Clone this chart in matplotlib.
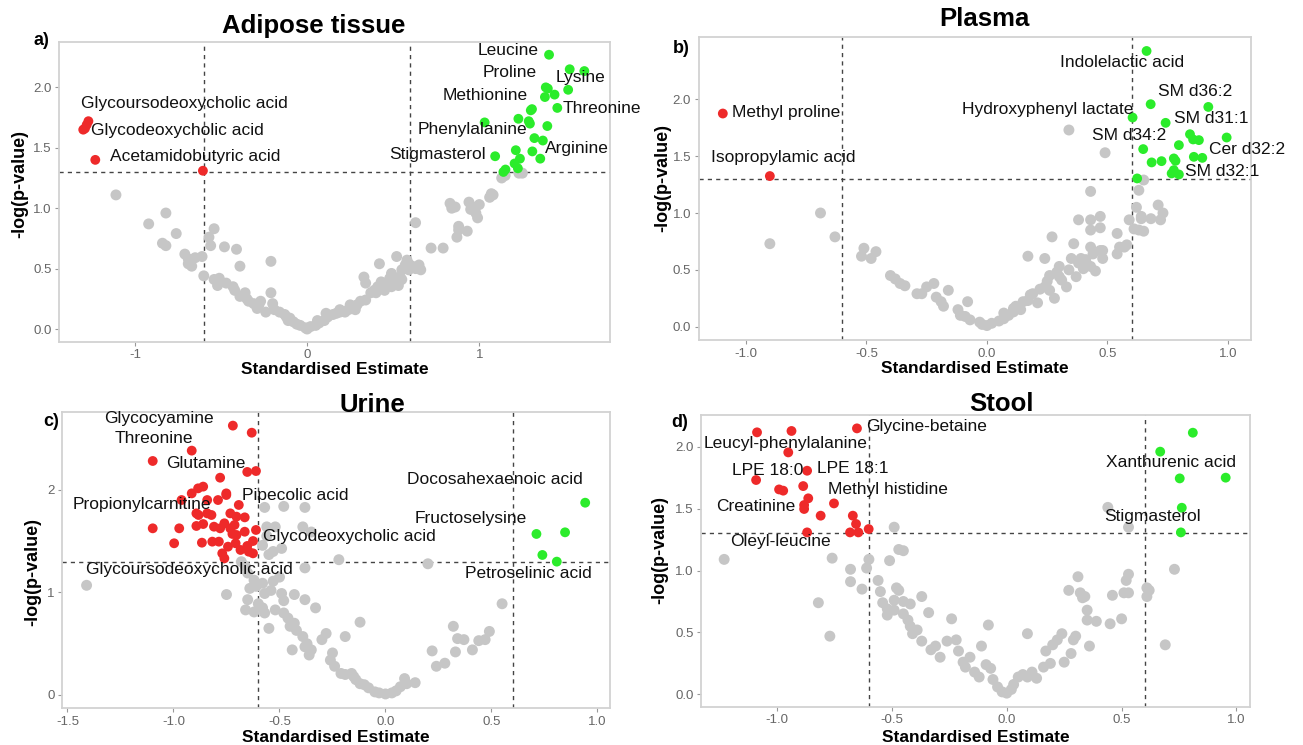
import matplotlib
matplotlib.use("Agg")
import matplotlib.pyplot as plt
import numpy as np

plt.rcParams['font.family'] = ['Liberation Sans', 'DejaVu Sans']

GREY = '#c6c6c6'
RED = '#ee2a2a'
GREEN = '#2bec2b'

# ---------------- a) Adipose tissue ----------------
adipose_grey = [
    (-1.11, 1.11), (-0.92, 0.87), (-0.82, 0.96), (-0.76, 0.79), (-0.84, 0.71), (-0.82, 0.69),
    (-0.71, 0.62), (-0.69, 0.58), (-0.67, 0.52), (-0.65, 0.59), (-0.61, 0.60), (-0.60, 0.44),
    (-0.57, 0.76), (-0.54, 0.83), (-0.56, 0.69), (-0.54, 0.41), (-0.52, 0.36), (-0.48, 0.68),
    (-0.41, 0.66), (-0.39, 0.52), (-0.43, 0.35), (-0.42, 0.32), (-0.39, 0.27), (-0.35, 0.25),
    (-0.34, 0.23), (-0.31, 0.21), (-0.28, 0.20), (-0.27, 0.23), (-0.21, 0.56), (-0.21, 0.30),
    (-0.20, 0.21), (-0.19, 0.16), (-0.16, 0.14), (-0.13, 0.12), (-0.11, 0.07), (-0.08, 0.06),
    (-0.06, 0.04), (-0.04, 0.03), (-0.01, 0.01), (0.00, 0.00), (0.02, 0.02), (0.05, 0.03),
    (0.07, 0.05), (0.10, 0.07), (0.12, 0.10), (0.15, 0.12), (0.17, 0.13), (0.19, 0.14),
    (0.22, 0.14), (0.24, 0.16), (0.28, 0.16), (0.29, 0.20), (0.31, 0.23), (0.33, 0.43),
    (0.34, 0.38), (0.37, 0.30), (0.39, 0.32), (0.41, 0.35), (0.42, 0.54), (0.43, 0.39),
    (0.46, 0.38), (0.48, 0.42), (0.49, 0.46), (0.51, 0.41), (0.52, 0.60), (0.53, 0.39),
    (0.54, 0.43), (0.55, 0.49), (0.57, 0.53), (0.58, 0.57), (0.59, 0.54), (0.61, 0.52),
    (0.63, 0.88), (0.65, 0.53), (0.66, 0.49), (0.72, 0.67), (0.79, 0.67), (0.83, 1.04),
    (0.84, 1.00), (0.86, 1.01), (0.87, 0.76), (0.88, 0.85), (0.88, 0.82), (0.93, 0.81),
    (0.94, 1.05), (0.95, 0.99), (0.96, 1.01), (0.98, 0.96), (0.99, 0.92), (1.00, 1.03),
    (1.06, 1.09), (1.07, 1.12), (1.08, 1.11), (1.13, 1.25), (1.15, 1.27), (1.23, 1.29),
    (1.25, 1.29), (-0.12, 0.10), (-0.10, 0.09), (0.06, 0.07), (0.11, 0.13), (0.19, 0.16),
    (0.25, 0.20), (0.34, 0.24), (0.40, 0.30), (0.45, 0.32), (0.49, 0.35), (0.53, 0.36),
    (0.55, 0.41), (0.59, 0.49), (0.63, 0.50), (-0.29, 0.17), (-0.24, 0.14), (-0.36, 0.30),
    (-0.47, 0.38), (-0.69, 0.54), (-0.51, 0.42),
]
adipose_red = [(-1.27, 1.72), (-1.28, 1.69), (-1.29, 1.66), (-1.30, 1.65), (-1.23, 1.40), (-0.605, 1.31)]
adipose_green = [
    (1.405, 2.27), (1.525, 2.15), (1.61, 2.135), (1.386, 2.00), (1.398, 1.99), (1.516, 1.98),
    (1.381, 1.92), (1.437, 1.94), (1.453, 1.83), (1.306, 1.82), (1.299, 1.81), (1.031, 1.71),
    (1.227, 1.74), (1.287, 1.72), (1.294, 1.70), (1.395, 1.68), (1.320, 1.58), (1.369, 1.56),
    (1.308, 1.47), (1.212, 1.48), (1.092, 1.43), (1.236, 1.41), (1.354, 1.41), (1.205, 1.37),
    (1.152, 1.32), (1.140, 1.30), (1.224, 1.33),
]
adipose_labels = ["Glycoursodeoxycholic acid", "Glycodeoxycholic acid", "Acetamidobutyric acid",
                  "Leucine", "Proline", "Lysine", "Methionine", "Threonine", "Phenylalanine",
                  "Arginine", "Stigmasterol"]
adipose_label_pos = [(-0.711, 1.868, 'center'), (-1.253, 1.647, 'left'), (-1.145, 1.426, 'left'),
                     (1.342, 2.309, 'right'), (1.333, 2.121, 'right'), (1.443, 2.083, 'left'),
                     (1.282, 1.931, 'right'), (1.484, 1.826, 'left'), (1.277, 1.655, 'right'),
                     (1.381, 1.495, 'left'), (1.036, 1.448, 'right')]

# ---------------- b) Plasma ----------------
plasma_grey = [
    (0.34, 1.73), (0.49, 1.53), (-0.69, 1.00), (-0.63, 0.79), (-0.90, 0.73), (-0.51, 0.69),
    (-0.52, 0.62), (-0.48, 0.60), (-0.46, 0.66), (-0.40, 0.45), (-0.38, 0.42), (-0.34, 0.36),
    (-0.29, 0.29), (-0.27, 0.29), (-0.25, 0.35), (-0.22, 0.38), (-0.21, 0.26), (-0.19, 0.22),
    (-0.16, 0.32), (-0.18, 0.18), (-0.12, 0.15), (-0.11, 0.10), (-0.08, 0.22), (-0.07, 0.06),
    (-0.03, 0.04), (-0.02, 0.02), (0.00, 0.01), (0.02, 0.03), (0.05, 0.05), (0.07, 0.07),
    (0.09, 0.10), (0.11, 0.13), (0.12, 0.18), (0.14, 0.15), (0.15, 0.22), (0.17, 0.62),
    (0.18, 0.28), (0.21, 0.21), (0.22, 0.33), (0.24, 0.60), (0.25, 0.40), (0.26, 0.32),
    (0.27, 0.79), (0.26, 0.45), (0.28, 0.25), (0.29, 0.48), (0.30, 0.53), (0.31, 0.41),
    (0.33, 0.35), (0.35, 0.60), (0.36, 0.73), (0.37, 0.44), (0.38, 0.56), (0.39, 0.60),
    (0.40, 0.51), (0.41, 0.59), (0.43, 0.53), (0.43, 1.19), (0.38, 0.94), (0.43, 0.94),
    (0.43, 0.85), (0.43, 0.70), (0.44, 0.64), (0.45, 0.49), (0.47, 0.87), (0.47, 0.97),
    (0.47, 0.67), (0.48, 0.60), (0.48, 0.67), (0.54, 0.82), (0.54, 0.64), (0.55, 0.70),
    (0.57, 0.70), (0.58, 0.72), (0.59, 0.94), (0.61, 0.86), (0.63, 0.85), (0.65, 0.84),
    (0.63, 1.20), (0.62, 1.05), (0.65, 1.29), (0.64, 0.97), (0.64, 0.95), (0.68, 0.95),
    (0.71, 1.07), (0.73, 1.00), (0.72, 0.94), (-0.36, 0.38), (-0.09, 0.09), (0.07, 0.12),
    (0.11, 0.16), (0.17, 0.23), (0.19, 0.29), (0.24, 0.35), (0.30, 0.44), (0.34, 0.50),
]
plasma_red = [(-1.095, 1.875), (-0.90, 1.325)]
plasma_green = [
    (0.662, 2.425), (0.679, 1.957), (0.604, 1.840), (0.741, 1.793), (0.918, 1.933), (0.842, 1.693),
    (0.855, 1.647), (0.879, 1.641), (0.994, 1.664), (0.796, 1.597), (0.648, 1.562), (0.683, 1.445),
    (0.724, 1.456), (0.775, 1.480), (0.782, 1.459), (0.858, 1.494), (0.893, 1.485), (0.775, 1.377),
    (0.766, 1.348), (0.796, 1.339), (0.623, 1.304),
]
plasma_labels = ["Methyl proline", "Isopropylamic acid", "Indolelactic acid", "SM d36:2",
                 "Hydroxyphenyl lactate", "SM d31:1", "SM d34:2", "Cer d32:2", "SM d32:1"]
plasma_label_pos = [(-1.055, 1.880, 'left'), (-0.845, 1.485, 'center'), (0.562, 2.320, 'center'),
                    (0.708, 2.065, 'left'), (0.607, 1.913, 'right'), (0.775, 1.831, 'left'),
                    (0.745, 1.685, 'right'), (0.920, 1.559, 'left'), (0.821, 1.362, 'left')]

# ---------------- c) Urine ----------------
urine_grey = [
    (-1.41, 1.07), (-0.75, 0.98), (-0.57, 1.83), (-0.48, 1.84), (-0.38, 1.83), (-0.56, 1.64),
    (-0.52, 1.64), (-0.39, 1.64), (-0.35, 1.59), (-0.56, 1.55), (-0.58, 1.46), (-0.53, 1.40),
    (-0.49, 1.43), (-0.55, 1.37), (-0.22, 1.32), (0.20, 1.28), (-0.38, 1.24), (-0.68, 1.30),
    (-0.66, 1.25), (-0.65, 1.19), (-0.62, 1.12), (-0.58, 1.09), (-0.61, 1.06), (-0.64, 1.04),
    (-0.57, 0.99), (-0.53, 1.11), (-0.50, 1.15), (-0.54, 1.02), (-0.49, 0.99), (-0.43, 0.98),
    (-0.65, 0.93), (-0.60, 0.89), (-0.58, 0.85), (-0.48, 0.92), (-0.38, 0.93), (-0.33, 0.85),
    (-0.66, 0.83), (-0.62, 0.81), (-0.57, 0.80), (-0.55, 0.65), (-0.52, 0.83), (-0.48, 0.80),
    (-0.46, 0.75), (-0.45, 0.67), (-0.43, 0.70), (-0.42, 0.63), (-0.39, 0.57), (-0.37, 0.50),
    (-0.35, 0.44), (-0.38, 0.47), (-0.44, 0.44), (-0.36, 0.39), (-0.30, 0.54), (-0.28, 0.60),
    (-0.19, 0.57), (-0.12, 0.71), (-0.25, 0.41), (-0.26, 0.34), (-0.24, 0.28), (-0.21, 0.21),
    (-0.19, 0.20), (-0.16, 0.21), (-0.15, 0.18), (-0.14, 0.15), (-0.12, 0.11), (-0.10, 0.10),
    (-0.08, 0.07), (-0.05, 0.03), (-0.03, 0.02), (0.00, 0.01), (0.03, 0.02), (0.05, 0.04),
    (0.07, 0.08), (0.09, 0.16), (0.10, 0.11), (0.14, 0.12), (0.22, 0.43), (0.24, 0.28),
    (0.28, 0.31), (0.32, 0.67), (0.33, 0.42), (0.34, 0.55), (0.37, 0.54), (0.41, 0.44),
    (0.44, 0.53), (0.47, 0.54), (0.49, 0.62), (0.55, 0.89),
]
urine_red = [
    (-0.720, 2.628), (-0.631, 2.559), (-0.914, 2.384), (-1.098, 2.283), (-0.652, 2.176), (-0.611, 2.185),
    (-0.780, 2.120), (-0.860, 2.033), (-0.884, 2.016), (-0.914, 1.967), (-0.751, 1.967), (-0.751, 1.951),
    (-0.962, 1.902), (-0.841, 1.902), (-0.790, 1.902), (-0.692, 1.854), (-0.892, 1.772), (-0.882, 1.756),
    (-0.841, 1.772), (-0.821, 1.756), (-0.732, 1.772), (-0.703, 1.740), (-0.664, 1.733), (-1.098, 1.626),
    (-0.973, 1.626), (-0.892, 1.649), (-0.860, 1.668), (-0.809, 1.642), (-0.760, 1.675), (-0.780, 1.626),
    (-0.732, 1.626), (-0.712, 1.659), (-0.722, 1.571), (-0.664, 1.593), (-0.611, 1.610), (-0.625, 1.502),
    (-0.997, 1.480), (-0.866, 1.486), (-0.817, 1.496), (-0.786, 1.496), (-0.743, 1.447), (-0.707, 1.480),
    (-0.684, 1.415), (-0.652, 1.454), (-0.645, 1.398), (-0.625, 1.382), (-0.770, 1.382), (-0.760, 1.333),
    (-0.703, 1.561),
]
urine_green = [(0.942, 1.876), (0.712, 1.571), (0.847, 1.587), (0.740, 1.366), (0.808, 1.301)]
urine_labels = ["Glycocyamine", "Threonine", "Glutamine", "Pipecolic acid", "Propionylcarnitine",
                "Glycodeoxycholic acid", "Glycoursodeoxycholic acid", "Docosahexaenoic acid",
                "Fructoselysine", "Petroselinic acid"]
urine_label_pos = [(-1.069, 2.699, 'center'), (-1.093, 2.504, 'center'), (-1.036, 2.260, 'left'),
                   (-0.678, 1.951, 'left'), (-1.147, 1.860, 'center'), (-0.580, 1.551, 'left'),
                   (-0.926, 1.226, 'center'), (0.515, 2.104, 'center'), (0.401, 1.717, 'center'),
                   (0.672, 1.187, 'center')]

# ---------------- d) Stool ----------------
stool_grey = [
    (-1.23, 1.09), (-0.82, 0.74), (-0.77, 0.47), (-0.76, 1.10), (-0.68, 1.01), (-0.68, 0.91),
    (-0.63, 0.85), (-0.61, 1.02), (-0.60, 1.09), (-0.49, 1.35), (-0.47, 1.17), (-0.45, 1.16),
    (-0.51, 1.08), (-0.56, 0.92), (-0.55, 0.83), (-0.48, 0.86), (-0.47, 0.84), (-0.37, 0.79),
    (-0.54, 0.74), (-0.52, 0.69), (-0.49, 0.76), (-0.52, 0.64), (-0.49, 0.68), (-0.45, 0.65),
    (-0.45, 0.75), (-0.42, 0.73), (-0.43, 0.60), (-0.42, 0.55), (-0.41, 0.49), (-0.37, 0.43),
    (-0.39, 0.52), (-0.34, 0.66), (-0.33, 0.36), (-0.31, 0.39), (-0.29, 0.30), (-0.26, 0.43),
    (-0.24, 0.61), (-0.22, 0.44), (-0.21, 0.35), (-0.19, 0.26), (-0.18, 0.22), (-0.16, 0.30),
    (-0.14, 0.18), (-0.12, 0.14), (-0.11, 0.39), (-0.09, 0.24), (-0.08, 0.56), (-0.07, 0.21),
    (-0.06, 0.12), (-0.04, 0.06), (-0.02, 0.02), (0.00, 0.01), (0.02, 0.04), (0.03, 0.08),
    (0.05, 0.14), (0.07, 0.16), (0.09, 0.14), (0.09, 0.49), (0.11, 0.18), (0.13, 0.13),
    (0.16, 0.22), (0.17, 0.35), (0.19, 0.25), (0.20, 0.40), (0.22, 0.44), (0.24, 0.49),
    (0.25, 0.26), (0.27, 0.84), (0.28, 0.33), (0.29, 0.44), (0.30, 0.47), (0.31, 0.95),
    (0.32, 0.82), (0.33, 0.78), (0.34, 0.79), (0.35, 0.68), (0.35, 0.60), (0.36, 0.39),
    (0.39, 0.59), (0.44, 1.51), (0.45, 0.57), (0.46, 0.80), (0.50, 0.61), (0.51, 0.82),
    (0.53, 0.82), (0.52, 0.92), (0.53, 0.97), (0.53, 1.35), (0.61, 0.86), (0.62, 0.84),
    (0.61, 0.79), (0.69, 0.40), (0.73, 1.01),
]
stool_red = [
    (-1.087, 2.116), (-0.937, 2.127), (-0.652, 2.148), (-0.951, 1.954), (-0.869, 1.806), (-1.091, 1.731),
    (-0.991, 1.655), (-0.973, 1.645), (-0.886, 1.682), (-0.864, 1.583), (-0.882, 1.529), (-0.882, 1.497),
    (-0.752, 1.542), (-0.810, 1.443), (-0.670, 1.443), (-0.656, 1.376), (-0.601, 1.335), (-0.646, 1.308),
    (-0.682, 1.308), (-0.869, 1.308),
]
stool_green = [(0.810, 2.113), (0.668, 1.960), (0.753, 1.744), (0.953, 1.750), (0.762, 1.507), (0.758, 1.308)]
stool_labels = ["Glycine-betaine", "Leucyl-phenylalanine", "LPE 18:0", "LPE 18:1", "Methyl histidine",
                "Creatinine", "Oleyl-leucine", "Xanthurenic acid", "Stigmasterol"]
stool_label_pos = [(-0.614, 2.161, 'left'), (-0.961, 2.022, 'center'), (-0.886, 1.806, 'right'),
                   (-0.828, 1.825, 'left'), (-0.779, 1.655, 'left'), (-0.918, 1.521, 'right'),
                   (-0.984, 1.233, 'center'), (0.717, 1.871, 'center'), (0.636, 1.440, 'center')]

W, H = 1303, 745
fig = plt.figure(figsize=(W / 100, H / 100), dpi=100)


def add_ax(left, top, right, bottom):
    return fig.add_axes([left / W, 1 - bottom / H, (right - left) / W, (bottom - top) / H])


def volcano(ax, grey, red, green, labels, label_pos, xlim, ylim, xticks, xfmt, yticks, yfmt, ylab_xy):
    ax.axvline(-0.6, color='#444444', lw=1, ls=(0, (3, 3)), zorder=2)
    ax.axvline(0.6, color='#444444', lw=1, ls=(0, (3, 3)), zorder=2)
    ax.axhline(1.3, color='#444444', lw=1, ls=(0, (3, 3)), zorder=2)
    for pts, col, size in ((grey, GREY, 62), (red, RED, 50), (green, GREEN, 50)):
        p = np.array(pts)
        ax.scatter(p[:, 0], p[:, 1], s=size, color=col, edgecolors='none', zorder=3)
    for name, (x, y, ha) in zip(labels, label_pos):
        ax.text(x, y, name, ha=ha, va='center', fontsize=12.5, color='#111111', zorder=4)
    ax.set_xlim(*xlim)
    ax.set_ylim(*ylim)
    ax.set_xticks(xticks)
    ax.set_xticklabels([xfmt.format(t) for t in xticks])
    ax.set_yticks(yticks)
    ax.set_yticklabels([yfmt.format(t) for t in yticks])
    ax.tick_params(length=3, width=0.8, color='#999999', labelcolor='#666666', labelsize=9.5, pad=2.5)
    for s in ax.spines.values():
        s.set_color('#d2d2d2')
        s.set_linewidth(1.3)
    ax.set_xlabel('Standardised Estimate', fontsize=12.5, fontweight='bold', va='baseline')
    ax.set_ylabel('-log(p-value)', fontsize=13, fontweight='bold', va='center', ha='center')
    ax.yaxis.set_label_coords(*ylab_xy)


ax_a = add_ax(59.3, 41.7, 610, 341.7)
volcano(ax_a, adipose_grey, adipose_red, adipose_green, adipose_labels, adipose_label_pos,
        (-1.439, 1.759), (-0.105, 2.378), [-1, 0, 1], '{:g}', [0, 0.5, 1, 1.5, 2], '{:.1f}', (-0.071, 0.526))
ax_a.xaxis.set_label_coords(0.5, -0.108)

ax_b = add_ax(698.7, 37, 1251, 340)
volcano(ax_b, plasma_grey, plasma_red, plasma_green, plasma_labels, plasma_label_pos,
        (-1.195, 1.095), (-0.117, 2.548), [-1, -0.5, 0, 0.5, 1], '{:.1f}', [0, 0.5, 1, 1.5, 2], '{:.1f}', (-0.0655, 0.535))
ax_b.xaxis.set_label_coords(0.5, -0.11)

ax_c = add_ax(62.2, 412.3, 610, 708.3)
volcano(ax_c, urine_grey, urine_red, urine_green, urine_labels, urine_label_pos,
        (-1.525, 1.059), (-0.130, 2.758), [-1.5, -1, -0.5, 0, 0.5, 1], '{:.1f}', [0, 1, 2], '{:g}', (-0.053, 0.461))
ax_c.xaxis.set_label_coords(0.5, -0.115)

ax_d = add_ax(701.2, 415, 1249.8, 706.7)
volcano(ax_d, stool_grey, stool_red, stool_green, stool_labels, stool_label_pos,
        (-1.330, 1.058), (-0.0996, 2.256), [-1, -0.5, 0, 0.5, 1], '{:.1f}', [0, 0.5, 1, 1.5, 2], '{:.1f}', (-0.075, 0.537))
ax_d.xaxis.set_label_coords(0.5, -0.12)

titles = ["Adipose tissue", "Plasma", "Urine", "Stool"]
title_xy = [(314, 33), (984, 26), (372, 412), (1001, 411)]
for t, (x, y) in zip(titles, title_xy):
    fig.text(x / W, 1 - y / H, t, ha='center', va='baseline', fontsize=18.5, fontweight='bold')

tags = ["a)", "b)", "c)", "d)"]
tag_xy = [(33, 45), (673, 53), (43.6, 425.7), (671, 426.7)]
for t, (x, y) in zip(tags, tag_xy):
    fig.text(x / W, 1 - y / H, t, ha='left', va='baseline', fontsize=13, fontweight='bold')

fig.savefig('out.png', dpi=100)
